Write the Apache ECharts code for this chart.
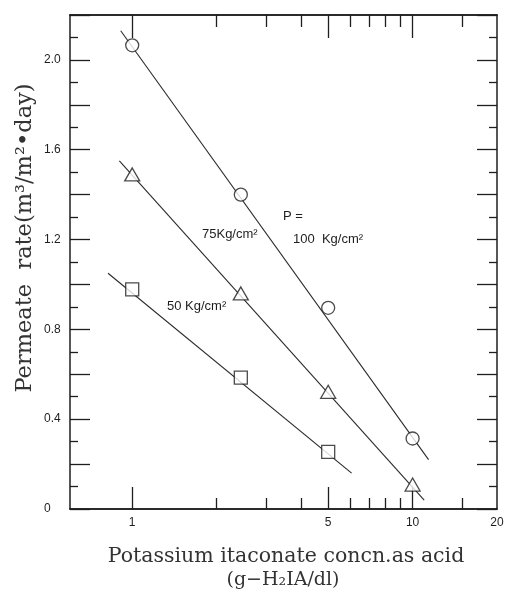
<!DOCTYPE html>
<html>
<head>
<meta charset="utf-8">
<script src="https://cdn.jsdelivr.net/npm/echarts@6/dist/echarts.min.js"></script>
<style>html,body{margin:0;padding:0;background:#fff;}#c{width:507px;height:611px;}</style>
</head>
<body>
<div id="c"></div>
<script>
// Data
const concX = [1, 2.44, 5, 10];            // g-H2IA/dl
const rate100 = [2.065, 1.40, 0.896, 0.314]; // P = 100 Kg/cm2 (circles)
const rate75 = [1.49, 0.96, 0.522, 0.109];   // 75 Kg/cm2 (triangles)
const concX50 = [1, 2.44, 5];
const rate50 = [0.978, 0.585, 0.254];        // 50 Kg/cm2 (squares)

// Fitted straight lines (end points)
const fit100X = [0.91, 11.4];
const fit100Y = [2.13, 0.22];
const fit75X = [0.90, 11.0];
const fit75Y = [1.55, 0.04];
const fit50X = [0.82, 6.06];
const fit50Y = [1.05, 0.16];

// Tick labels / tick positions
const xLabelValues = [1, 5, 10, 20];
const xMajorTicks = [1, 5, 10];
const xMinorTicks = [2, 3, 4, 6, 7, 8, 9, 15];
const yLabelValues = [0, 0.4, 0.8, 1.2, 1.6, 2.0];

const pairs = (xs, ys) => xs.map((x, i) => [x, ys[i]]);

const INK = '#1e1e1e';
const chart = echarts.init(document.getElementById('c'), null, {renderer: 'canvas'});

function xAx(pos, ticks, len, labels) {
  return {
    type: 'log', logBase: 10, min: 0.6, max: 20, position: pos,
    axisLine: {show: true, onZero: false, lineStyle: {color: INK, width: 1.5}},
    axisTick: {show: true, inside: true, length: len, customValues: ticks, lineStyle: {color: INK, width: 1.3}},
    axisLabel: labels ? {
      show: true, customValues: xLabelValues, margin: 8, color: INK,
      fontFamily: 'Liberation Sans', fontSize: 12, showMaxLabel: true,
      formatter: v => String(v)
    } : {show: false},
    splitLine: {show: false}, minorTick: {show: false}
  };
}
function yAx(pos, labels) {
  return {
    type: 'value', min: 0, max: 2.2, interval: 0.2, position: pos,
    axisLine: {show: true, onZero: false, lineStyle: {color: INK, width: 1.5}},
    axisTick: {show: true, inside: true, length: 20, lineStyle: {color: INK, width: 1.3}},
    minorTick: {show: true, splitNumber: 2, length: 8, lineStyle: {color: INK, width: 1.3}},
    axisLabel: labels ? {
      show: true, customValues: yLabelValues, align: 'left', margin: 26, color: INK,
      fontFamily: 'Liberation Sans', fontSize: 12,
      formatter: v => (v === 0 ? '0' : v.toFixed(1))
    } : {show: false},
    splitLine: {show: false}
  };
}

const markStyle = {color: '#fff', borderColor: INK, borderWidth: 1.3};
const lineStyle = {color: '#2a2a2a', width: 1.1};

chart.setOption({
  animation: false,
  backgroundColor: '#fff',
  grid: {left: 70, top: 15, right: 10, bottom: 102, containLabel: false},
  xAxis: [
    xAx('bottom', xMajorTicks, 22, true),
    xAx('bottom', xMinorTicks, 11, false),
    xAx('top', xMajorTicks, 23, false),
    xAx('top', xMinorTicks, 12, false)
  ],
  yAxis: [yAx('left', true), yAx('right', false)],
  series: [
    {type: 'line', data: pairs(fit100X, fit100Y), showSymbol: false, symbol: 'none', lineStyle: lineStyle, z: 2},
    {type: 'line', data: pairs(fit75X, fit75Y), showSymbol: false, symbol: 'none', lineStyle: lineStyle, z: 2},
    {type: 'line', data: pairs(fit50X, fit50Y), showSymbol: false, symbol: 'none', lineStyle: lineStyle, z: 2},
    {type: 'scatter', data: pairs(concX, rate100), symbol: 'circle', symbolSize: 13, itemStyle: markStyle, z: 3},
    {type: 'scatter', data: pairs(concX, rate75), symbol: 'triangle', symbolSize: [15, 13], itemStyle: markStyle, z: 3},
    {type: 'scatter', data: pairs(concX50, rate50), symbol: 'rect', symbolSize: 13, itemStyle: markStyle, z: 3}
  ],
  graphic: [
    {type: 'text', left: 283, top: 210, style: {text: 'P =', font: '13px "Liberation Sans"', fill: INK}},
    {type: 'text', left: 293, top: 233, style: {text: '100  Kg/cm²', font: '13px "Liberation Sans"', fill: INK}},
    {type: 'text', left: 202, top: 228, style: {text: '75Kg/cm²', font: '13px "Liberation Sans"', fill: INK}},
    {type: 'text', left: 167, top: 300, style: {text: '50 Kg/cm²', font: '13px "Liberation Sans"', fill: INK}},
    {type: 'text', x: 286, y: 557, style: {text: 'Potassium itaconate concn.as acid', font: '20.5px "DejaVu Serif"', fill: '#333', align: 'center', verticalAlign: 'middle'}},
    {type: 'text', x: 283, y: 580, style: {text: '(g−H₂IA/dl)', font: '19px "DejaVu Serif"', fill: '#333', align: 'center', verticalAlign: 'middle'}},
    {type: 'text', x: 25, y: 238, rotation: Math.PI / 2, style: {text: 'Permeate  rate(m³/m²•day)', font: '22.5px "DejaVu Serif"', fill: '#333', align: 'center', verticalAlign: 'middle'}}
  ]
});
</script>
</body>
</html>
